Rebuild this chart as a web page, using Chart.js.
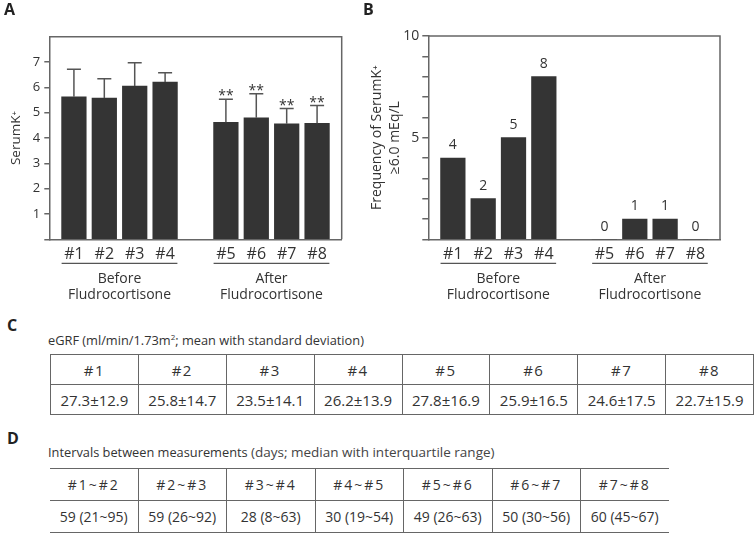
<!DOCTYPE html>
<html lang="en">
<head>
<meta charset="UTF-8">
<title>Serum K+ before and after fludrocortisone</title>
<script src="https://cdn.jsdelivr.net/npm/chart.js"></script>
<style>
  body { margin: 0; background: #fff; font-family: "Open Sans", sans-serif; color: #333; }
  #page { position: relative; width: 754px; height: 540px; overflow: hidden; }
  canvas { position: absolute; top: 0; }
  #chartA { left: 0; }
  #chartB { left: 360px; }
  .panel { position: absolute; font-weight: bold; font-size: 16px; line-height: 16px; color: #222; }
  .caption { position: absolute; left: 48px; font-size: 12.8px; line-height: 14px; white-space: nowrap; }
  .caption small { font-size: 13.5px; color: #444; }
  .caption sup { font-size: 8px; line-height: 0; }
  table { position: absolute; left: 50px; border-collapse: collapse; table-layout: fixed; color: #333; }
  td { text-align: center; padding: 0; width: 87.5px; }
  #tableC { top: 354px; font-size: 15px; }
  #tableC td { border: 1px solid #666; height: 29px; }
  #tableC tr:first-child td { letter-spacing: 1.5px; }
  #tableD { top: 468px; font-size: 14px; }
  #tableD td { border-top: 1px solid #666; border-bottom: 1px solid #666; border-left: 1px solid #666; height: 31px; }
  #tableD tr:first-child td { letter-spacing: 2px; }
  #tableD td:first-child { border-left: none; }
</style>
</head>
<body>
<div id="page">
  <canvas id="chartA" width="360" height="305"></canvas>
  <canvas id="chartB" width="394" height="305"></canvas>
  <div class="panel" style="left:4px; top:1px;">A</div>
  <div class="panel" style="left:363px; top:1px;">B</div>
  <div class="panel" style="left:7px; top:317px;">C</div>
  <div class="panel" style="left:7px; top:430px;">D</div>
  <div class="caption" style="top:333px;">eGRF (ml/min/1.73m<sup>2</sup>; mean with standard deviation)</div>
  <div class="caption" style="top:445px;">Intervals between measurements <small>(days; median with interquartile range)</small></div>
  <table id="tableC"></table>
  <table id="tableD"></table>
</div>
<script>
  // measurements
  const labels = ['#1', '#2', '#3', '#4', '#5', '#6', '#7', '#8'];
  const groupNames = [['Before', 'Fludrocortisone'], ['After', 'Fludrocortisone']];
  const groupSize = 4;

  // A: serum K+ mean and SD
  const serumK = [5.63, 5.58, 6.05, 6.21, 4.62, 4.80, 4.56, 4.58];
  const serumKSd = [1.08, 0.76, 0.92, 0.37, 0.91, 0.95, 0.60, 0.70];
  const significance = ['', '', '', '', '**', '**', '**', '**'];
  const yTicksA = [1, 2, 3, 4, 5, 6, 7];

  // B: count of serum K+ >= 6.0
  const freqHigh = [4, 2, 5, 8, 0, 1, 1, 0];
  const yTicksB = [5, 10];

  // C: eGFR
  const egfrMean = [27.3, 25.8, 23.5, 26.2, 27.8, 25.9, 24.6, 22.7];
  const egfrSd = [12.9, 14.7, 14.1, 13.9, 16.9, 16.5, 17.5, 15.9];

  // D: intervals
  const intervalLabels = ['#1~#2', '#2~#3', '#3~#4', '#4~#5', '#5~#6', '#6~#7', '#7~#8'];
  const intervalMedian = [59, 59, 28, 30, 49, 50, 60];
  const intervalLow = [21, 26, 8, 19, 26, 30, 45];
  const intervalHigh = [95, 92, 63, 54, 63, 56, 67];

  Chart.defaults.font.family = '"Open Sans", sans-serif';
  Chart.defaults.color = '#333';

  // one empty slot between the two groups
  const slots = labels.map((_, i) => i + 1 + Math.floor(i / groupSize));
  const BAR_W = 24.6;
  const AXIS = '#666';

  function xAxis() {
    return {
      type: 'linear', min: 0.19, max: 9.81,
      offset: false, bounds: 'data',
      afterBuildTicks: s => { s.ticks = slots.map(v => ({ value: v })); },
      afterFit: s => { s.height = 65.7; },
      grid: { drawOnChartArea: false, drawTicks: false, offset: false },
      border: { color: AXIS, width: 1.5 },
      ticks: {
        autoSkip: false, maxRotation: 0, padding: 6,
        font: { size: 16 },
        callback: v => labels[slots.indexOf(v)]
      }
    };
  }

  const framePlugin = {
    id: 'frame',
    beforeDatasetsDraw(chart) {
      const { ctx, chartArea: a } = chart;
      ctx.save();
      ctx.strokeStyle = AXIS;
      ctx.lineWidth = 1.5;
      ctx.beginPath();
      ctx.moveTo(a.left, a.top);
      ctx.lineTo(a.right, a.top);
      ctx.lineTo(a.right, a.bottom);
      ctx.stroke();
      ctx.restore();
    }
  };

  const groupPlugin = {
    id: 'groups',
    afterDraw(chart) {
      const { ctx, chartArea: a, scales: { x } } = chart;
      ctx.save();
      ctx.strokeStyle = '#555';
      ctx.lineWidth = 1.2;
      ctx.fillStyle = '#333';
      ctx.font = '14px "Open Sans", sans-serif';
      ctx.textAlign = 'center';
      ctx.textBaseline = 'middle';
      groupNames.forEach((name, g) => {
        const x0 = x.getPixelForValue(slots[g * groupSize]) - BAR_W / 2;
        const x1 = x.getPixelForValue(slots[g * groupSize + groupSize - 1]) + BAR_W / 2;
        const ly = a.bottom + 24;
        ctx.beginPath();
        ctx.moveTo(x0, ly);
        ctx.lineTo(x1, ly);
        ctx.stroke();
        ctx.fillText(name[0], (x0 + x1) / 2, a.bottom + 40);
        ctx.fillText(name[1], (x0 + x1) / 2, a.bottom + 56);
      });
      ctx.restore();
    }
  };

  const errorPlugin = {
    id: 'errors',
    afterDatasetsDraw(chart) {
      const { ctx, scales: { x, y } } = chart;
      ctx.save();
      ctx.strokeStyle = '#555';
      ctx.lineWidth = 1.5;
      ctx.fillStyle = '#333';
      ctx.font = '14px "Open Sans", sans-serif';
      ctx.textAlign = 'center';
      ctx.textBaseline = 'alphabetic';
      serumK.forEach((m, i) => {
        const px = x.getPixelForValue(slots[i]);
        const base = y.getPixelForValue(m);
        const top = y.getPixelForValue(m + serumKSd[i]);
        ctx.beginPath();
        ctx.moveTo(px, base);
        ctx.lineTo(px, top);
        ctx.moveTo(px - 7, top);
        ctx.lineTo(px + 7, top);
        ctx.stroke();
        if (significance[i]) ctx.fillText(significance[i], px, top + 1);
      });
      ctx.restore();
    }
  };

  const valuePlugin = {
    id: 'values',
    afterDatasetsDraw(chart) {
      const { ctx, scales: { x, y } } = chart;
      ctx.save();
      ctx.fillStyle = '#333';
      ctx.font = '14px "Open Sans", sans-serif';
      ctx.textAlign = 'center';
      ctx.textBaseline = 'alphabetic';
      freqHigh.forEach((v, i) => {
        ctx.fillText(String(v), x.getPixelForValue(slots[i]), y.getPixelForValue(v) - 8.5);
      });
      ctx.restore();
    }
  };

  new Chart(document.getElementById('chartA'), {
    type: 'bar',
    data: {
      datasets: [{
        data: serumK.map((v, i) => ({ x: slots[i], y: v })),
        backgroundColor: '#343434',
        barThickness: BAR_W
      }]
    },
    options: {
      responsive: false,
      animation: false,
      layout: { padding: { left: 0, top: 36.7, right: 18.3, bottom: 0 } },
      plugins: { legend: { display: false }, tooltip: { enabled: false } },
      scales: {
        x: xAxis(),
        y: {
          min: 0, max: 8,
          afterFit: s => { s.width = 49.3; },
          ticks: {
            stepSize: 1, padding: 4, font: { size: 13 },
            callback: v => yTicksA.includes(v) ? v : ''
          },
          grid: {
            drawOnChartArea: false, tickLength: 5, lineWidth: 1.5,
            color: c => (c.tick && c.tick.value === 8) ? 'rgba(0,0,0,0)' : AXIS
          },
          border: { color: AXIS, width: 1.5 },
          title: { display: true, text: 'SerumK⁺', font: { size: 13.5 }, padding: { top: 8, bottom: 0 } }
        }
      }
    },
    plugins: [framePlugin, errorPlugin, groupPlugin]
  });

  new Chart(document.getElementById('chartB'), {
    type: 'bar',
    data: {
      datasets: [{
        data: freqHigh.map((v, i) => ({ x: slots[i], y: v })),
        backgroundColor: '#343434',
        barThickness: BAR_W
      }]
    },
    options: {
      responsive: false,
      animation: false,
      layout: { padding: { left: 0, top: 36, right: 34, bottom: 0 } },
      plugins: { legend: { display: false }, tooltip: { enabled: false } },
      scales: {
        x: xAxis(),
        y: {
          min: 0, max: 10,
          afterFit: s => { s.width = 68.3; },
          ticks: {
            stepSize: 1, padding: 3, font: { size: 14 },
            callback: v => yTicksB.includes(v) ? v : ''
          },
          grid: { drawOnChartArea: false, tickLength: 6, lineWidth: 1.5, color: AXIS },
          border: { color: AXIS, width: 1.5 },
          title: {
            display: true, text: ['Frequency of SerumK⁺', '≥6.0 mEq/L'],
            font: { size: 14, lineHeight: 1.3 }, padding: { top: 7.9, bottom: 0 }
          }
        }
      }
    },
    plugins: [framePlugin, valuePlugin, groupPlugin]
  });

  // tables
  function addRow(table, cells) {
    const tr = document.createElement('tr');
    cells.forEach(t => {
      const td = document.createElement('td');
      td.textContent = t;
      tr.appendChild(td);
    });
    table.appendChild(tr);
  }
  const tableC = document.getElementById('tableC');
  addRow(tableC, labels);
  addRow(tableC, egfrMean.map((m, i) => m.toFixed(1) + '±' + egfrSd[i].toFixed(1)));
  const tableD = document.getElementById('tableD');
  addRow(tableD, intervalLabels);
  addRow(tableD, intervalMedian.map((m, i) => m + ' (' + intervalLow[i] + '~' + intervalHigh[i] + ')'));
</script>
</body>
</html>
